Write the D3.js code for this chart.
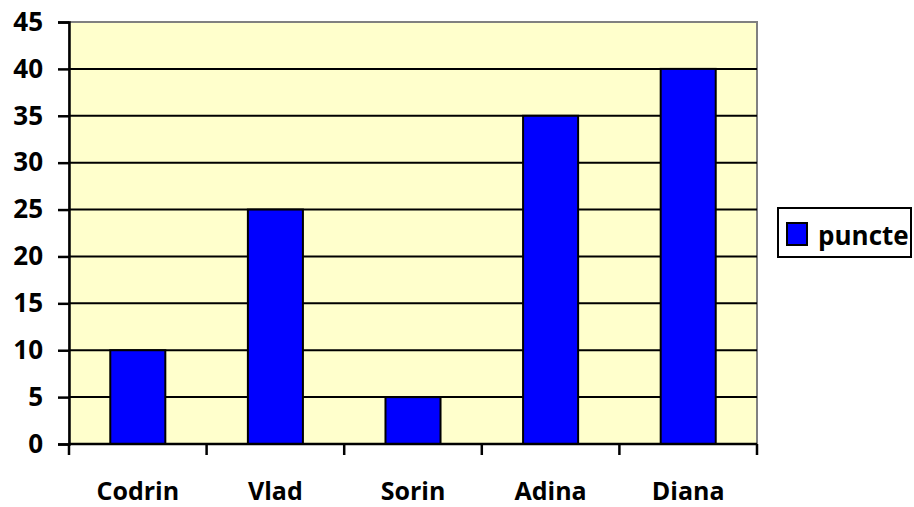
<!DOCTYPE html>
<html>
<head>
<meta charset="utf-8">
<script src="https://cdn.jsdelivr.net/npm/d3@7"></script>
<style>
  body { margin: 0; background: #fff; }
  svg { display: block; font-family: "Open Sans", sans-serif; font-weight: bold; }
</style>
</head>
<body>
<svg id="chart"></svg>
<script>
const categories = ["Codrin", "Vlad", "Sorin", "Adina", "Diana"];
const puncte = [10, 25, 5, 35, 40];
const yTicks = [0, 5, 10, 15, 20, 25, 30, 35, 40, 45];
const seriesName = "puncte";

const W = 914, H = 507;
const plot = { left: 69, top: 22, right: 757, bottom: 444 };
const fontFam = "'Open Sans', sans-serif";

const svg = d3.select("#chart").attr("width", W).attr("height", H);

const x = d3.scaleBand().domain(categories).range([plot.left, plot.right]).paddingInner(0.6).paddingOuter(0.3);
const xEdge = d3.scaleBand().domain(categories).range([plot.left, plot.right]);
const y = d3.scaleLinear().domain([0, 45]).range([plot.bottom, plot.top]);

// plot background
svg.append("rect")
  .attr("x", plot.left).attr("y", plot.top)
  .attr("width", plot.right - plot.left).attr("height", plot.bottom - plot.top)
  .attr("fill", "#ffffcc")
  .attr("stroke", "#808080").attr("stroke-width", 2);

// gridlines
svg.append("g").selectAll("line")
  .data(yTicks.filter(d => d > 0 && d < 45))
  .join("line")
  .attr("x1", plot.left).attr("x2", plot.right)
  .attr("y1", d => y(d)).attr("y2", d => y(d))
  .attr("stroke", "#000").attr("stroke-width", 2);

// bars
svg.append("g").selectAll("rect")
  .data(categories)
  .join("rect")
  .attr("x", (d) => x(d))
  .attr("width", x.bandwidth())
  .attr("y", (d, i) => y(puncte[i]))
  .attr("height", (d, i) => y(0) - y(puncte[i]))
  .attr("fill", "#0000ff")
  .attr("stroke", "#000").attr("stroke-width", 2);

// y axis
const yAxis = svg.append("g")
  .attr("transform", `translate(${plot.left},0)`)
  .call(d3.axisLeft(y).tickValues(yTicks).tickSize(11).tickPadding(15));
yAxis.select(".domain").attr("stroke-width", 2.5);
yAxis.selectAll(".tick line").attr("stroke-width", 2.5);
yAxis.selectAll("text")
  .attr("font-size", 26).attr("font-family", fontFam).attr("font-weight", "bold").attr("fill", "#000");

// x axis
const xAxis = svg.append("g")
  .attr("transform", `translate(0,${plot.bottom})`);
xAxis.append("line")
  .attr("x1", plot.left).attr("x2", plot.right)
  .attr("stroke", "#000").attr("stroke-width", 2.5);
xAxis.selectAll(".tk")
  .data(categories.concat(["end"]))
  .join("line")
  .attr("x1", (d, i) => i < categories.length ? xEdge(d) : plot.right)
  .attr("x2", (d, i) => i < categories.length ? xEdge(d) : plot.right)
  .attr("y1", 0).attr("y2", 11)
  .attr("stroke", "#000").attr("stroke-width", 2.5);
xAxis.selectAll("text")
  .data(categories)
  .join("text")
  .attr("x", d => xEdge(d) + xEdge.bandwidth() / 2)
  .attr("y", 56)
  .attr("text-anchor", "middle")
  .attr("font-size", 25)
  .text(d => d);

// legend
const lg = svg.append("g").attr("transform", "translate(778,208)");
lg.append("rect").attr("width", 133).attr("height", 49)
  .attr("fill", "#fff").attr("stroke", "#000").attr("stroke-width", 2);
lg.append("rect").attr("x", 9).attr("y", 15).attr("width", 20).attr("height", 22)
  .attr("fill", "#0000ff").attr("stroke", "#000").attr("stroke-width", 2);
lg.append("text").attr("x", 40).attr("y", 37).attr("font-size", 26).text(seriesName);
</script>
</body>
</html>
